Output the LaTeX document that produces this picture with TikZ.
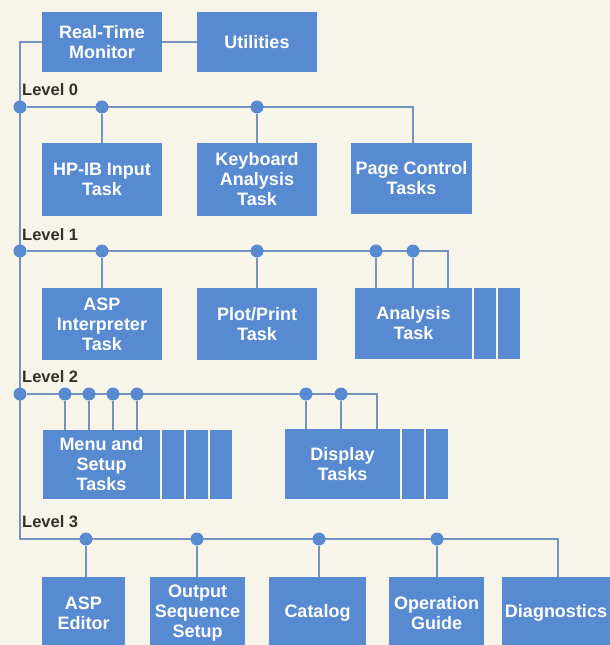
\documentclass[tikz,border=0pt]{standalone}
\usepackage{fontspec}
\setmainfont{Liberation Sans}
\usetikzlibrary{backgrounds}
\definecolor{paper}{RGB}{247,244,233}
\definecolor{taskblue}{RGB}{88,138,210}
\definecolor{wireblue}{RGB}{118,146,192}
\definecolor{levelgray}{RGB}{50,50,45}

\begin{document}
\begin{tikzpicture}[x=1pt,y=-1pt,
  task/.style={fill=taskblue,text=white,inner sep=0pt,align=center,font=\fontsize{18}{20}\selectfont\bfseries},
  slot/.style={fill=taskblue,inner sep=0pt,minimum width=22pt},
  dot/.style={circle,fill=taskblue,inner sep=0pt,minimum size=13pt},
  wire/.style={draw=wireblue,line width=2pt},
  level/.style={anchor=base west,text=levelgray,inner sep=0pt,font=\fontsize{16.5}{18}\selectfont\bfseries}]
\useasboundingbox (0,0) rectangle (610,645);

% Monitor and utilities
\node[task,minimum width=120pt,minimum height=60pt] (rtm) at (102,42) {Real-Time\\Monitor};
\node[task,minimum width=120pt,minimum height=60pt] (util) at (257,42) {Utilities};

% Level 0 tasks
\node[level] (lab0) at (22,95) {Level 0};
\node[task,minimum width=120pt,minimum height=73pt] (hpib) at (102,179.5) {HP-IB Input\\Task};
\node[task,minimum width=120pt,minimum height=73pt] (kbd) at (257,179.5) {Keyboard\\Analysis\\Task};
\node[task,minimum width=121pt,minimum height=71pt] (page) at (411.5,178.5) {Page Control\\Tasks};

% Level 1 tasks
\node[level] (lab1) at (22,240) {Level 1};
\node[task,minimum width=120pt,minimum height=72pt] (aspi) at (102,324) {ASP\\Interpreter\\Task};
\node[task,minimum width=120pt,minimum height=72pt] (plot) at (257,324) {Plot/Print\\Task};
\node[task,minimum width=117pt,minimum height=71pt] (anal) at (413.5,323.5) {Analysis\\Task};
\node[slot,minimum height=71pt] (anal2) at (485,323.5) {};
\node[slot,minimum height=71pt] (anal3) at (509,323.5) {};

% Level 2 tasks
\node[level] (lab2) at (22,382) {Level 2};
\node[task,minimum width=117pt,minimum height=69pt] (menu) at (101.5,464.5) {Menu and\\Setup\\Tasks};
\node[slot,minimum height=69pt] (menu2) at (173,464.5) {};
\node[slot,minimum height=69pt] (menu3) at (197,464.5) {};
\node[slot,minimum height=69pt] (menu4) at (221,464.5) {};
\node[task,minimum width=115pt,minimum height=70pt] (disp) at (342.5,464) {Display\\Tasks};
\node[slot,minimum height=70pt] (disp2) at (413,464) {};
\node[slot,minimum height=70pt] (disp3) at (437,464) {};

% Level 3 tasks
\node[level] (lab3) at (22,527) {Level 3};
\node[task,minimum width=83pt,minimum height=72pt] (aspe) at (83.5,613) {ASP\\Editor};
\node[task,minimum width=95pt,minimum height=72pt] (outs) at (197.5,613) {Output\\Sequence\\Setup};
\node[task,minimum width=97pt,minimum height=72pt] (cat) at (317.5,613) {Catalog};
\node[task,minimum width=95pt,minimum height=72pt] (opg) at (436.5,613) {Operation\\Guide};
\node[task,minimum width=108pt,minimum height=72pt] (diag) at (556,613) {Diagnostics};

% Junctions
\node[dot] (d00) at (20,107) {};
\node[dot] (d01) at (102,107) {};
\node[dot] (d02) at (257,107) {};
\node[dot] (d10) at (20,251) {};
\node[dot] (d11) at (102,251) {};
\node[dot] (d12) at (257,251) {};
\node[dot] (d13) at (376,251) {};
\node[dot] (d14) at (413,251) {};
\node[dot] (d20) at (20,394) {};
\node[dot] (d21) at (65,394) {};
\node[dot] (d22) at (89,394) {};
\node[dot] (d23) at (113,394) {};
\node[dot] (d24) at (137,394) {};
\node[dot] (d25) at (306,394) {};
\node[dot] (d26) at (341,394) {};
\node[dot] (d31) at (86,539) {};
\node[dot] (d32) at (197,539) {};
\node[dot] (d33) at (319,539) {};
\node[dot] (d34) at (437,539) {};
\coordinate (spine) at (20,42);
\coordinate (c03) at (413,107);
\coordinate (c15) at (448,251);
\coordinate (c27) at (377,394);
\coordinate (c30) at (20,539);
\coordinate (c35) at (558,539);

\begin{pgfonlayer}{background}
\fill[paper] (0,0) rectangle (610,645);

% Spine and level buses
\draw[wire] (rtm) -- (spine) -- (c30) -- (c35) -- (c35 |- diag.north);
\draw[wire] (rtm) -- (util);
\draw[wire] (d00) -- (c03) -- (c03 |- page.north);
\draw[wire] (d10) -- (c15) -- (c15 |- anal.north);
\draw[wire] (d20) -- (c27) -- (c27 |- disp.north);

% Drops to the tasks
\draw[wire] (d01) -- (d01 |- hpib.north);
\draw[wire] (d02) -- (d02 |- kbd.north);
\draw[wire] (d11) -- (d11 |- aspi.north);
\draw[wire] (d12) -- (d12 |- plot.north);
\draw[wire] (d13) -- (d13 |- anal.north);
\draw[wire] (d14) -- (d14 |- anal.north);
\draw[wire] (d21) -- (d21 |- menu.north);
\draw[wire] (d22) -- (d22 |- menu.north);
\draw[wire] (d23) -- (d23 |- menu.north);
\draw[wire] (d24) -- (d24 |- menu.north);
\draw[wire] (d25) -- (d25 |- disp.north);
\draw[wire] (d26) -- (d26 |- disp.north);
\draw[wire] (d31) -- (d31 |- aspe.north);
\draw[wire] (d32) -- (d32 |- outs.north);
\draw[wire] (d33) -- (d33 |- cat.north);
\draw[wire] (d34) -- (d34 |- opg.north);
\end{pgfonlayer}

\end{tikzpicture}
\end{document}
